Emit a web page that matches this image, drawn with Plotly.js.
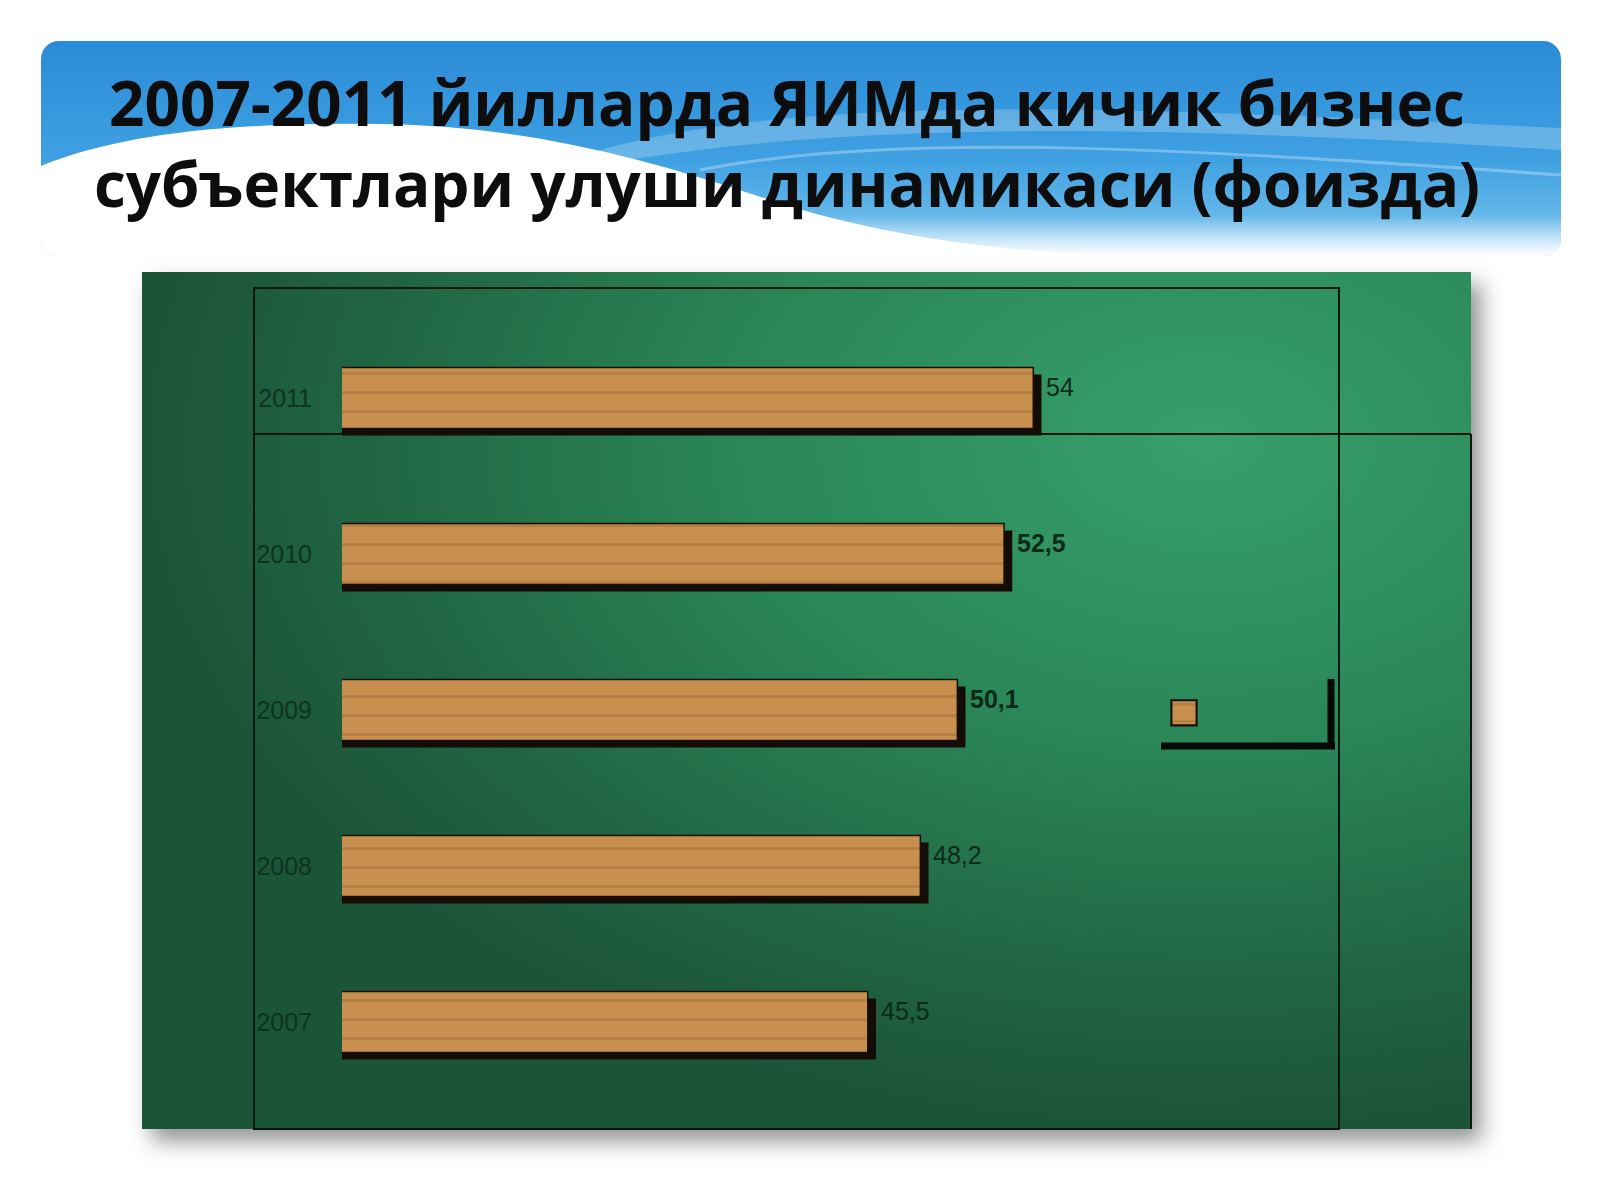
<!DOCTYPE html>
<html>
<head>
<meta charset="utf-8">
<script src="https://cdn.plot.ly/plotly-3.0.1.min.js"></script>
<style>
html,body{margin:0;padding:0;background:#ffffff;}
#chart{width:1600px;height:1200px;}
</style>
</head>
<body>
<div id="chart"></div>
<script>
// ---- data ----
const years = ['2007', '2008', '2009', '2010', '2011'];
const shares = [45.5, 48.2, 50.1, 52.5, 54];
const boldYears = ['2009', '2010'];
const chartTitle = '2007-2011 йилларда ЯИМда кичик бизнес<br>субъектлари улуши динамикаси (фоизда)';

// ---- geometry helpers (figure pixels -> paper) ----
const FW = 1600, FH = 1200;
const ML = 342, MR = 261, MT = 288, MB = 71;
const PW = FW - ML - MR, PH = FH - MT - MB;
const px = v => (v - ML) / PW;
const py = v => (FH - MB - v) / PH;

// ---- background artwork (banner + green board) ----
const svg = `<svg xmlns='http://www.w3.org/2000/svg' width='1600' height='1200' viewBox='0 0 1600 1200'>
<defs>
<linearGradient id='bl' x1='0' y1='0' x2='0' y2='1'>
<stop offset='0' stop-color='#2a8bd7'/><stop offset='0.55' stop-color='#3fa1e2'/><stop offset='1' stop-color='#80c6ee'/>
</linearGradient>
<linearGradient id='fade' x1='0' y1='0' x2='0' y2='1'>
<stop offset='0' stop-color='#ffffff' stop-opacity='0'/><stop offset='1' stop-color='#ffffff' stop-opacity='1'/>
</linearGradient>
<radialGradient id='gr' cx='0.8' cy='0.2' r='0.8'>
<stop offset='0' stop-color='#37a06b'/><stop offset='0.45' stop-color='#2a8557'/><stop offset='0.8' stop-color='#206442'/><stop offset='1' stop-color='#1c5437'/>
</radialGradient>
<clipPath id='bc'><rect x='41' y='41' width='1520' height='215' rx='18' ry='18'/></clipPath>
<filter id='sh' x='-10%' y='-10%' width='120%' height='120%'><feGaussianBlur stdDeviation='11'/></filter>
</defs>
<rect x='0' y='0' width='1600' height='1200' fill='#ffffff'/>
<g clip-path='url(#bc)'>
<rect x='41' y='41' width='1520' height='215' fill='url(#bl)'/>
<path d='M600,150 C800,95 1100,105 1561,128 L1561,150 C1150,125 850,120 600,165 Z' fill='#ffffff' fill-opacity='0.22'/>
<path d='M700,170 C900,130 1200,150 1561,175' stroke='#ffffff' stroke-opacity='0.3' stroke-width='3' fill='none'/>
<path d='M41,166 C120,134 230,122 380,124 C530,126 650,160 770,200 C880,236 1000,252 1120,256 L41,256 Z' fill='#ffffff'/>
<rect x='41' y='215' width='1520' height='41' fill='url(#fade)'/>
</g>
<rect x='152' y='284' width='1329' height='857' fill='#6d6d6d' fill-opacity='0.75' filter='url(#sh)'/>
<rect x='142' y='272' width='1329' height='857' fill='url(#gr)'/>
</svg>`;
const bgSrc = 'data:image/svg+xml;charset=utf-8,' + encodeURIComponent(svg);

// ---- traces ----
const shadow = {
  type: 'bar', orientation: 'h',
  y: years, x: shares, base: 0.42,
  width: 0.39, offset: -0.24,
  marker: {color: '#140c06', line: {width: 0}},
  showlegend: false, hoverinfo: 'skip'
};
const bars = {
  type: 'bar', orientation: 'h',
  y: years, x: shares,
  name: ' ',
  width: 0.39,
  marker: {
    color: '#c48a52',
    line: {color: '#1b0f06', width: 1.5},
    pattern: {shape: '-', fgcolor: '#95602f', fgopacity: 0.35, bgcolor: '#c8904f', size: 19, solidity: 0.16}
  },
  showlegend: true, hoverinfo: 'skip'
};

// ---- value labels (placed at each bar's end, y = category index) ----
const fmt = v => String(v).replace('.', ',');
const annotations = shares.map((v, i) => ({
  x: v, y: years.indexOf(years[i]), xref: 'x', yref: 'y',
  text: boldYears.includes(years[i]) ? '<b>' + fmt(v) + '</b>' : fmt(v),
  showarrow: false, xanchor: 'left', yanchor: 'middle',
  xshift: 11, yshift: 11,
  font: {family: 'Liberation Sans, Arial, sans-serif', size: 25, color: '#0b2a18'}
}));

// ---- frame / legend-shadow decoration ----
const lineCol = '#08170e';
const shapes = [
  {type: 'rect', xref: 'paper', yref: 'paper', x0: px(254), x1: px(1339), y0: py(288), y1: py(1129),
   line: {color: lineCol, width: 2}, fillcolor: 'rgba(0,0,0,0)', layer: 'below'},
  {type: 'line', xref: 'paper', yref: 'paper', x0: px(254), x1: px(1471), y0: py(434), y1: py(434),
   line: {color: lineCol, width: 2}, layer: 'below'},
  {type: 'line', xref: 'paper', yref: 'paper', x0: px(1471), x1: px(1471), y0: py(434), y1: py(1129),
   line: {color: lineCol, width: 2}, layer: 'below'},
  {type: 'line', xref: 'paper', yref: 'paper', x0: px(1161), x1: px(1335), y0: py(746), y1: py(746),
   line: {color: '#050a06', width: 7}},
  {type: 'line', xref: 'paper', yref: 'paper', x0: px(1331), x1: px(1331), y0: py(679), y1: py(749),
   line: {color: '#050a06', width: 7}}
];

const layout = {
  width: FW, height: FH,
  margin: {l: ML, r: MR, t: MT, b: MB, pad: 0},
  paper_bgcolor: '#ffffff',
  plot_bgcolor: 'rgba(0,0,0,0)',
  barmode: 'overlay',
  hovermode: false,
  title: {
    text: chartTitle,
    x: 787 / FW, xref: 'container', xanchor: 'center',
    y: 1 - 126 / FH, yref: 'container', yanchor: 'middle',
    font: {family: 'Open Sans, Noto Sans, sans-serif', size: 62, weight: 700, color: '#0d0d0d'}
  },
  xaxis: {
    range: [18.5, 69.7], visible: true, showticklabels: false, ticks: '',
    showline: false, showgrid: false, zeroline: false, fixedrange: true
  },
  yaxis: {
    type: 'category', categoryorder: 'array', categoryarray: years,
    range: [-0.686, 4.705],
    showgrid: false, zeroline: false, showline: false, ticks: '',
    ticklabelstandoff: 29,
    tickfont: {family: 'Liberation Sans, Arial, sans-serif', size: 25, color: '#0d3321'},
    fixedrange: true
  },
  showlegend: true,
  legend: {
    x: px(1164), y: py(692), xanchor: 'left', yanchor: 'top',
    bgcolor: 'rgba(0,0,0,0)', borderwidth: 0,
    font: {family: 'Liberation Sans, Arial, sans-serif', size: 22, color: '#0b2a18'}
  },
  annotations: annotations,
  shapes: shapes,
  images: [{
    source: bgSrc, xref: 'paper', yref: 'paper',
    x: px(0), y: py(0), sizex: FW / PW, sizey: FH / PH,
    xanchor: 'left', yanchor: 'top', sizing: 'stretch', layer: 'below'
  }]
};

Plotly.newPlot('chart', [shadow, bars], layout, {displayModeBar: false, staticPlot: true}).then(gd => {
  // enlarge the legend swatch to match the reference's larger square
  gd.querySelectorAll('.legend .legendpoints path').forEach(p => {
    const t = p.getAttribute('transform') || '';
    p.setAttribute('transform', t + ' scale(2.1)');
    p.style.strokeWidth = '1px';
    p.style.stroke = '#1b0f06';
  });
});
</script>
</body>
</html>
